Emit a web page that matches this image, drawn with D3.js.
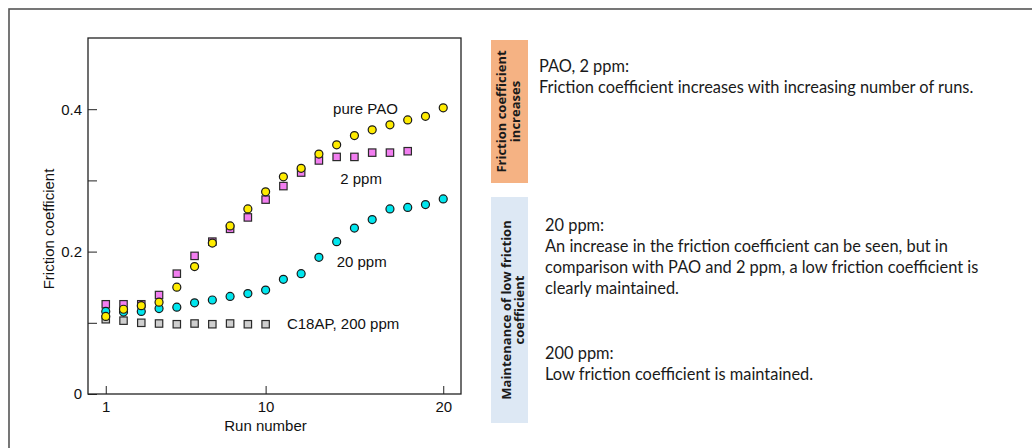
<!DOCTYPE html>
<html>
<head>
<meta charset="utf-8">
<script src="https://cdn.jsdelivr.net/npm/d3@7"></script>
<style>
  body { margin: 0; background: #fff; }
  svg { display: block; }
  .ax text { font-family: "Liberation Sans", Arial, sans-serif; font-size: 15px; fill: #111; }
  .note { font-family: Lato, "Noto Sans", sans-serif; font-size: 16.4px; fill: #1a1a1a; }
  .tag { font-family: "Open Sans", "Noto Sans", sans-serif; font-size: 13px; font-weight: bold; fill: #1a1a1a; }
</style>
</head>
<body>
<div id="chart"></div>
<script>
// run numbers
var runs = d3.range(1, 21);

// friction coefficient per run
var purePAO = [0.109, 0.119, 0.124, 0.129, 0.150, 0.179, 0.212, 0.236, 0.260, 0.284,
               0.305, 0.317, 0.337, 0.350, 0.363, 0.371, 0.378, 0.385, 0.390, 0.402];
var ppm2    = [0.126, 0.126, 0.126, 0.139, 0.169, 0.194, 0.214, 0.232, 0.248, 0.273,
               0.292, 0.311, 0.328, 0.333, 0.333, 0.339, 0.339, 0.341];
var ppm20   = [0.116, 0.115, 0.116, 0.120, 0.122, 0.128, 0.132, 0.137, 0.141, 0.146,
               0.161, 0.169, 0.192, 0.214, 0.233, 0.245, 0.260, 0.262, 0.266, 0.274];
var ppm200  = [0.105, 0.103, 0.100, 0.099, 0.098, 0.099, 0.098, 0.099, 0.098, 0.098];

var yTicks = [0, 0.1, 0.2, 0.3, 0.4];
var yTickLabels = { 0: "0", 0.2: "0.2", 0.4: "0.4" };
var xTicks = [1, 10, 20];

// series drawn bottom to top
var series = [
  { name: "C18AP, 200 ppm", values: ppm200, shape: "square", color: "#cfcfcf", lx: 11.2, ly: 0.091 },
  { name: "2 ppm", values: ppm2, shape: "square", color: "#f27ef0", lx: 14.2, ly: 0.295 },
  { name: "20 ppm", values: ppm20, shape: "circle", color: "#00e6ee", lx: 14.0, ly: 0.178 },
  { name: "pure PAO", values: purePAO, shape: "circle", color: "#ffec00", lx: 13.8, ly: 0.393 }
];

var notes = [
  { tag: ["Friction coefficient", "increases"], color: "#f5b283",
    lines: [["PAO, 2 ppm:", "Friction coefficient increases with increasing number of runs."]] },
  { tag: ["Maintenance of low friction", "coefficient"], color: "#dde8f4",
    lines: [["20 ppm:", "An increase in the friction coefficient can be seen, but in",
             "comparison with PAO and 2 ppm, a low friction coefficient is", "clearly maintained."],
            ["200 ppm:", "Low friction coefficient is maintained."]] }
];

var W = 1032, H = 448;
var svg = d3.select("#chart").append("svg").attr("width", W).attr("height", H);

// outer frame (runs off the right and bottom)
svg.append("rect")
  .attr("x", 9).attr("y", 9).attr("width", W + 20).attr("height", H + 20)
  .attr("fill", "none").attr("stroke", "#555").attr("stroke-width", 1.6);

var plot = { left: 88, right: 461, top: 38, bottom: 394 };

var x = d3.scaleLinear().domain([0, 21]).range([plot.left, plot.right]);
var y = d3.scaleLinear().domain([0, 0.5]).range([plot.bottom, plot.top]);

var ax = svg.append("g").attr("class", "ax");

ax.append("g")
  .attr("transform", "translate(" + plot.left + ",0)")
  .call(d3.axisLeft(y).tickValues(yTicks).tickSizeInner(-9).tickSizeOuter(0).tickPadding(6)
    .tickFormat(function (d) { return yTickLabels[d] || ""; }))
  .call(function (g) { g.select(".domain").remove(); });

ax.append("g")
  .attr("transform", "translate(0," + plot.bottom + ")")
  .call(d3.axisBottom(x).tickValues(xTicks).tickSizeInner(-8).tickSizeOuter(0).tickPadding(7)
    .tickFormat(d3.format("d")))
  .call(function (g) { g.select(".domain").remove(); });

ax.selectAll(".tick line").attr("stroke", "#222");

ax.append("rect")
  .attr("x", plot.left).attr("y", plot.top)
  .attr("width", plot.right - plot.left).attr("height", plot.bottom - plot.top)
  .attr("fill", "none").attr("stroke", "#222").attr("stroke-width", 1.3);

ax.append("text")
  .attr("x", (plot.left + plot.right) / 2 - 9).attr("y", 431)
  .attr("text-anchor", "middle").text("Run number");

ax.append("text")
  .attr("transform", "translate(54," + 229 + ") rotate(-90)")
  .attr("text-anchor", "middle").text("Friction coefficient");

// markers
var half = 3.7;
series.forEach(function (s) {
  var g = svg.append("g");
  var pts = s.values.map(function (v, i) { return { run: runs[i], v: v }; });
  if (s.shape === "circle") {
    g.selectAll("circle").data(pts).enter().append("circle")
      .attr("cx", function (d) { return x(d.run); })
      .attr("cy", function (d) { return y(d.v); })
      .attr("r", half + 0.3)
      .attr("fill", s.color).attr("stroke", "#1a1a1a").attr("stroke-width", 1.2);
  } else {
    g.selectAll("rect").data(pts).enter().append("rect")
      .attr("x", function (d) { return x(d.run) - half; })
      .attr("y", function (d) { return y(d.v) - half; })
      .attr("width", half * 2).attr("height", half * 2)
      .attr("fill", s.color).attr("stroke", "#2a2a2a").attr("stroke-width", 1.2);
  }
});

// series labels
ax.selectAll(".slabel").data(series).enter().append("text")
  .attr("class", "slabel")
  .attr("x", function (d) { return x(d.lx); })
  .attr("y", function (d) { return y(d.ly); })
  .text(function (d) { return d.name; });

// right-hand notes
var boxes = [{ y0: 40, y1: 183 }, { y0: 197, y1: 423 }];
var tagBase = [[506, 520], [511, 524]];
var blockBase = [[72], [231, 359]];
var textX = [539, 545];

notes.forEach(function (n, i) {
  var b = boxes[i];
  svg.append("rect")
    .attr("x", 491).attr("y", b.y0).attr("width", 37).attr("height", b.y1 - b.y0)
    .attr("fill", n.color);
  var cy = (b.y0 + b.y1) / 2;
  n.tag.forEach(function (t, j) {
    svg.append("text").attr("class", "tag")
      .attr("transform", "translate(" + tagBase[i][j] + "," + cy + ") rotate(-90)")
      .attr("text-anchor", "middle").text(t);
  });
  n.lines.forEach(function (block, k) {
    var t = svg.append("text").attr("class", "note")
      .attr("x", textX[i]).attr("y", blockBase[i][k]);
    block.forEach(function (line, m) {
      t.append("tspan").attr("x", textX[i]).attr("dy", m === 0 ? 0 : 21).text(line);
    });
  });
});
</script>
</body>
</html>
